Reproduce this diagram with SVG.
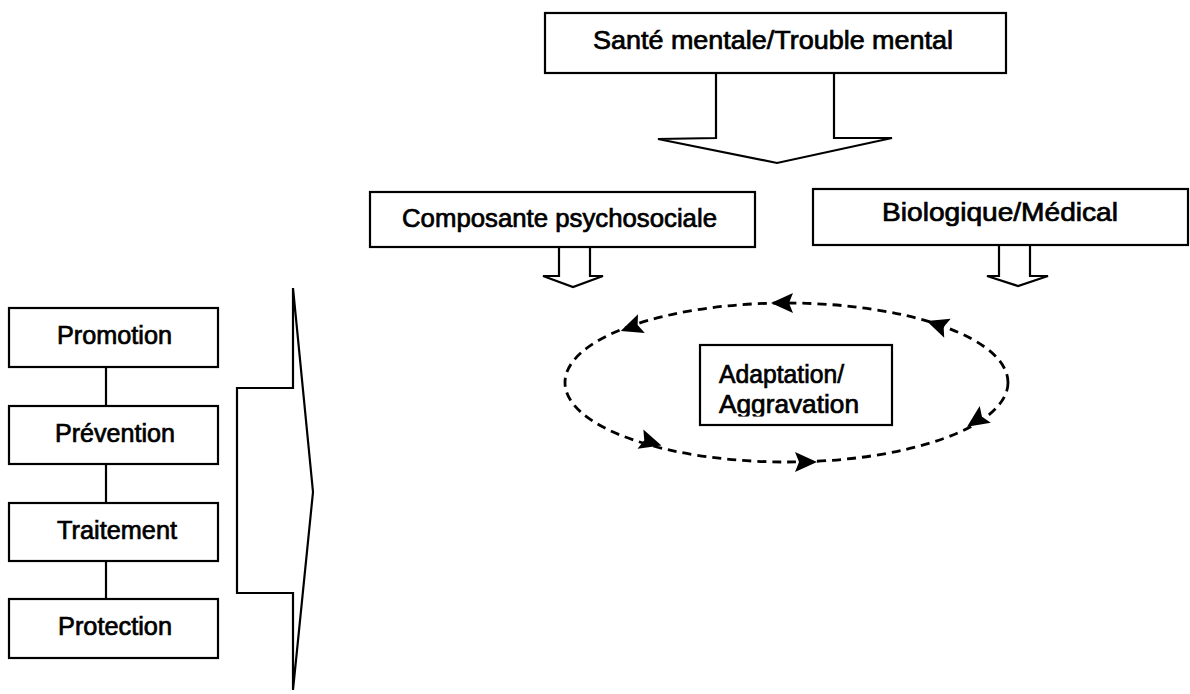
<svg xmlns="http://www.w3.org/2000/svg" width="1190" height="694" viewBox="0 0 1190 694">
<style>
.box{fill:#fff;stroke:#000;stroke-width:2.2}
.blk{fill:#fff;stroke:#000;stroke-width:2.2;stroke-linejoin:miter}
.t{font-family:"Liberation Sans",Arial,sans-serif;font-size:25px;fill:#000;stroke:#000;stroke-width:0.7}
.dash{fill:none;stroke:#000;stroke-width:2.8;stroke-dasharray:9 6}
.ah{fill:#000}
.ln{stroke:#000;stroke-width:2.2;fill:none}
</style>
<defs>
<clipPath id="clipAdapt"><rect x="700" y="345" width="192" height="71.5"/></clipPath>
<polygon id="head" points="12,0 -10,-10 -6,0 -10,10"/>
</defs>
<rect width="1190" height="694" fill="#fff"/>

<g id="connectors">
<polygon class="blk" points="716,73 716,138 658,139 777,163 892,138 834,138 834,73"/>
<polygon class="blk" points="559,247 559,276 543,276 573,287 603,276 590,276 590,247"/>
<polygon class="blk" points="999,245 999,276 987,276 1018,286 1048,276 1030,276 1030,245"/>
<line class="ln" x1="106" y1="367" x2="106" y2="406"/>
<line class="ln" x1="106" y1="464" x2="106" y2="503"/>
<line class="ln" x1="106" y1="561" x2="106" y2="599"/>
<polygon class="blk" points="237,388 293,388 293,288 313,492 293,690 293,593 237,593"/>
<g id="cycle">
<ellipse class="dash" cx="786.5" cy="382.5" rx="221.5" ry="79.5"/>
<use href="#head" class="ah" transform="translate(783,303) rotate(180)"/>
<use href="#head" class="ah" transform="translate(632,327) rotate(160)"/>
<use href="#head" class="ah" transform="translate(938,325) rotate(199)"/>
<use href="#head" class="ah" transform="translate(977,420) rotate(146)"/>
<use href="#head" class="ah" transform="translate(805,462) rotate(0)"/>
<use href="#head" class="ah" transform="translate(650,442) rotate(17)"/>
</g>
</g>

<g id="sante">
<rect class="box" x="545" y="13" width="461" height="60"/>
<text class="t" x="593" y="49" textLength="360" lengthAdjust="spacingAndGlyphs">Santé mentale/Trouble mental</text>
</g>
<g id="psychosociale">
<rect class="box" x="370" y="192" width="385" height="55"/>
<text class="t" x="402" y="227" textLength="315" lengthAdjust="spacingAndGlyphs">Composante psychosociale</text>
</g>
<g id="biologique">
<rect class="box" x="813" y="189" width="375" height="56"/>
<text class="t" x="882" y="221" textLength="236" lengthAdjust="spacingAndGlyphs">Biologique/Médical</text>
</g>
<g id="adaptation">
<rect class="box" x="700" y="345" width="192" height="80"/>
<g clip-path="url(#clipAdapt)">
<text class="t" x="719" y="383" textLength="125" lengthAdjust="spacingAndGlyphs">Adaptation/</text>
<text class="t" x="719" y="413" textLength="140" lengthAdjust="spacingAndGlyphs">Aggravation</text>
</g>
</g>
<g id="promotion">
<rect class="box" x="9" y="308" width="209" height="59"/>
<text class="t" x="57" y="344" textLength="115" lengthAdjust="spacingAndGlyphs">Promotion</text>
</g>
<g id="prevention">
<rect class="box" x="9" y="406" width="209" height="58"/>
<text class="t" x="55" y="442" textLength="120" lengthAdjust="spacingAndGlyphs">Prévention</text>
</g>
<g id="traitement">
<rect class="box" x="9" y="503" width="209" height="58"/>
<text class="t" x="57" y="539" textLength="120" lengthAdjust="spacingAndGlyphs">Traitement</text>
</g>
<g id="protection">
<rect class="box" x="9" y="599" width="209" height="59"/>
<text class="t" x="58" y="635" textLength="114" lengthAdjust="spacingAndGlyphs">Protection</text>
</g>
</svg>
